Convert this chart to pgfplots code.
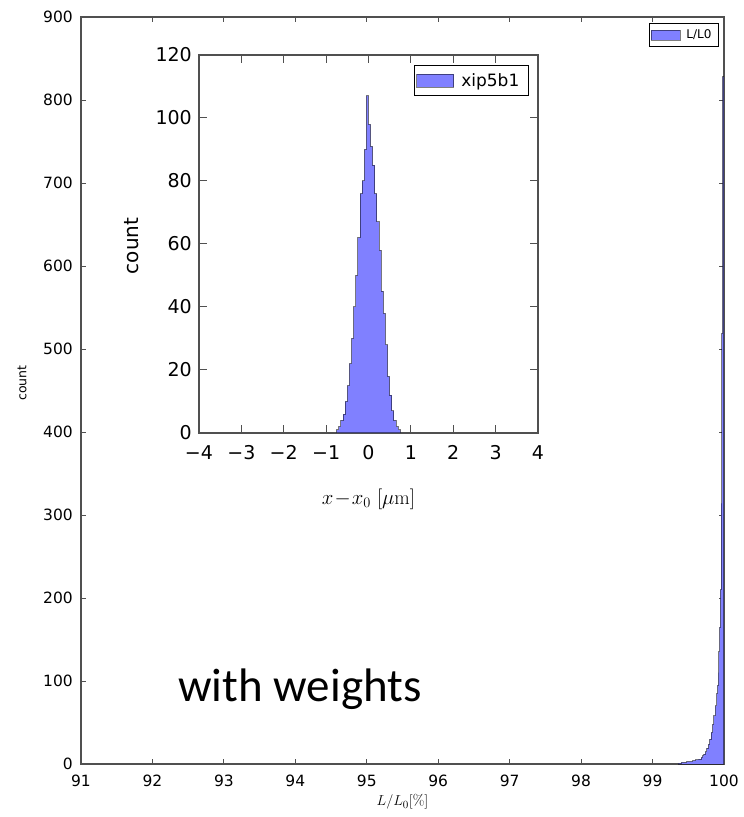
\documentclass[border=0pt]{standalone}
\usepackage{fontspec}
\usepackage{pgfplots}
\pgfplotsset{compat=1.18}
\newfontfamily\dv{DejaVu Sans}
\newfontfamily\cali{Carlito}
\definecolor{histfill}{RGB}{128,128,255}
\definecolor{spine}{RGB}{80,80,80}

\pgfplotsset{
  mplhist/.style={const plot, fill=histfill, draw=black, draw opacity=0.5, line width=1pt},
}

\begin{document}
\begin{tikzpicture}[x=1pt,y=1pt]
\useasboundingbox (0,0) rectangle (744,817);

% main histogram
\begin{axis}[
  at={(81pt,53pt)}, anchor=south west,
  scale only axis, width=643pt, height=747pt,
  xmin=91, xmax=100, ymin=0, ymax=900,
  xtick={91,92,...,100}, ytick={0,100,...,900},
  tick align=inside,
  major tick length=5pt,
  axis line style={spine, line width=1.2pt},
  every tick/.style={spine, line width=1pt},
  /pgf/number format/assume math mode=true,
  ticklabel style={font=\dv\fontsize{15.5}{18}\selectfont},
  xticklabel style={inner sep=0pt, yshift=-11pt},
  yticklabel style={inner sep=0pt, xshift=-8pt},
  xlabel={$L/L_0[\%]$},
  xlabel style={font=\fontsize{15}{18}\selectfont, at={(axis description cs:0.5,-0.051)}, anchor=center},
  ylabel={count},
  ylabel style={font=\dv\fontsize{12.5}{15}\selectfont, at={(axis description cs:-0.0918,0.51)}, anchor=center},
  legend style={at={(0.992,0.992)}, anchor=north east, draw=black, line width=0.8pt,
    font=\dv\fontsize{12}{14}\selectfont, inner sep=1.5pt,
    nodes={inner xsep=5.5pt, inner ysep=5pt}},
  legend image code/.code={\draw[#1] (0pt,-5pt) rectangle (29pt,5pt);},
]
\addplot[mplhist] coordinates {
  (99.36,1) (99.40,2) (99.44,2) (99.48,3) (99.52,3) (99.56,4) (99.60,5)
  (99.64,6) (99.68,8) (99.70,10) (99.72,12) (99.74,15) (99.76,19) (99.78,24)
  (99.80,30) (99.82,38) (99.84,48) (99.86,58) (99.88,70) (99.90,85)
  (99.91,95) (99.92,110) (99.93,135) (99.94,165) (99.95,210) (99.96,314)
  (99.97,519) (99.98,828) (100,828)
} \closedcycle;
\addlegendentry{L/L0}
\end{axis}

% inset histogram
\begin{axis}[
  at={(199pt,384pt)}, anchor=south west,
  scale only axis, width=339pt, height=378pt,
  xmin=-4, xmax=4, ymin=0, ymax=120,
  xtick={-4,-3,...,4},
  xticklabels={−4,−3,−2,−1,0,1,2,3,4},
  ytick={0,20,...,120},
  tick align=inside,
  major tick length=8pt,
  axis background/.style={fill=white},
  axis line style={spine, line width=1.4pt},
  every tick/.style={spine, line width=1pt},
  /pgf/number format/assume math mode=true,
  ticklabel style={font=\dv\fontsize{19}{22}\selectfont},
  xticklabel style={inner sep=0pt, yshift=-12pt},
  yticklabel style={inner sep=0pt, xshift=-7pt},
  xlabel={$x\!-\!x_0\ [\mu\mathrm{m}]$},
  xlabel style={font=\fontsize{20}{24}\selectfont, at={(axis description cs:0.5,-0.1746)}, anchor=center},
  ylabel={count},
  ylabel style={font=\dv\fontsize{20}{24}\selectfont, at={(axis description cs:-0.1976,0.495)}, anchor=center},
  legend style={at={(0.973,0.974)}, anchor=north east, draw=black, line width=1pt,
    font=\dv\fontsize{17}{20}\selectfont, inner sep=2pt,
    nodes={inner xsep=7pt, inner ysep=6pt}},
  legend image code/.code={\draw[#1] (0pt,-6.5pt) rectangle (37pt,6.5pt);},
]
\addplot[mplhist] coordinates {
  (-0.75,1) (-0.70,2) (-0.65,4) (-0.60,6) (-0.55,10) (-0.50,15)
  (-0.45,22) (-0.40,30) (-0.35,40) (-0.30,50) (-0.25,62) (-0.20,76)
  (-0.15,80) (-0.10,90) (-0.05,107) (0.00,98) (0.05,91) (0.10,85)
  (0.15,76) (0.20,67) (0.25,58) (0.30,45) (0.35,38) (0.40,28) (0.45,18)
  (0.50,12) (0.55,7) (0.60,4) (0.65,2) (0.70,1) (0.75,1)
} \closedcycle;
\addlegendentry{xip5b1}
\end{axis}

\node[anchor=base west, inner sep=0pt, font=\cali\fontsize{47}{56}\selectfont] at (178,115) {with weights};
\end{tikzpicture}
\end{document}
